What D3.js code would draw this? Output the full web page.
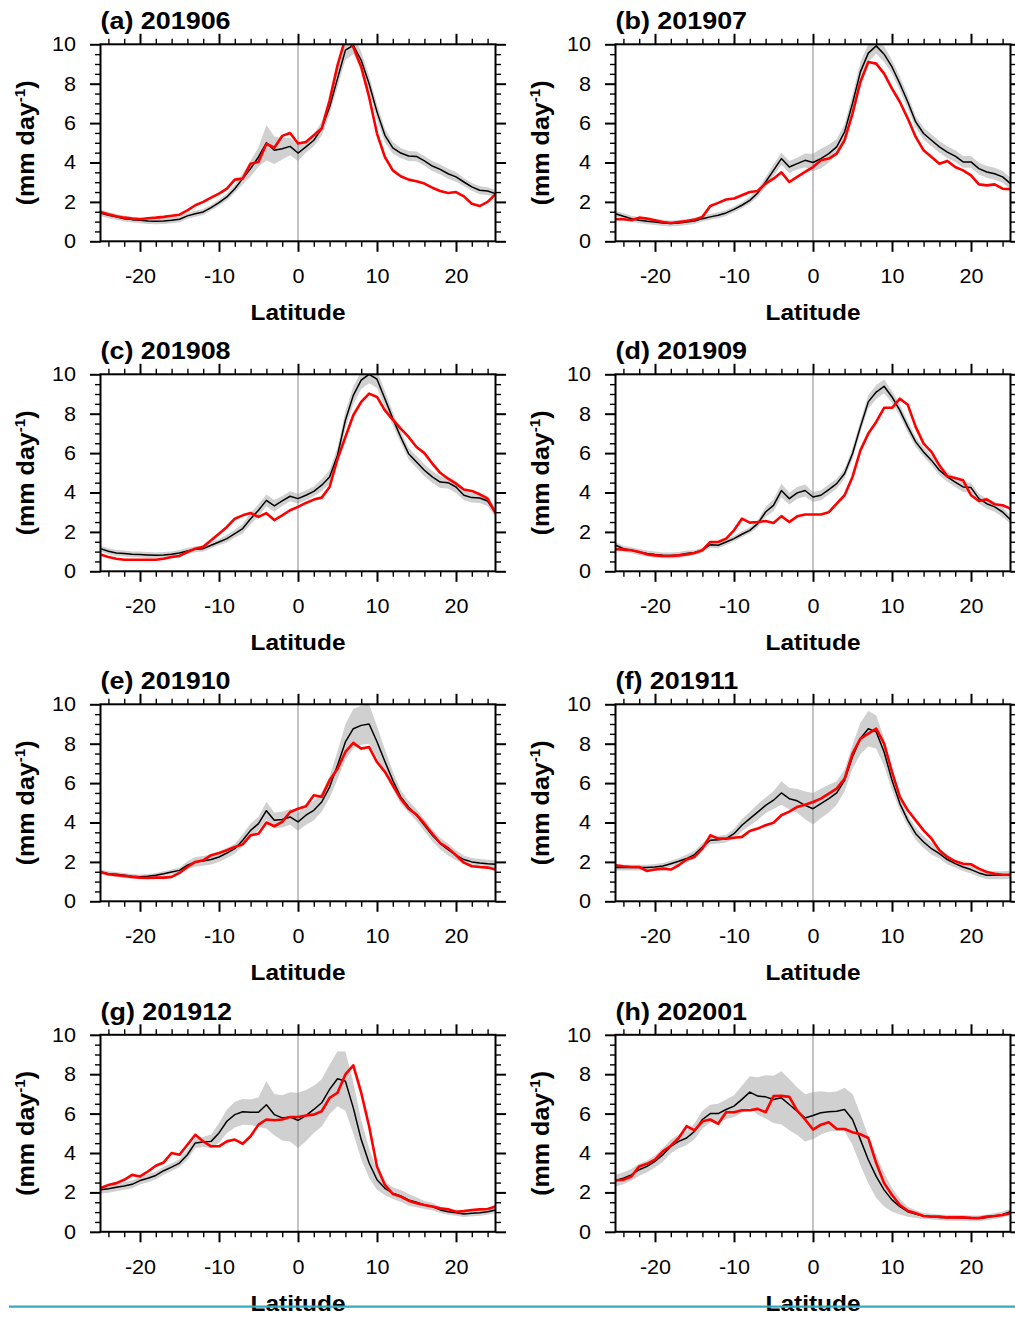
<!DOCTYPE html>
<html>
<head>
<meta charset="utf-8">
<script src="https://cdn.jsdelivr.net/npm/d3@7"></script>
<style>
  body { margin: 0; background: #ffffff; }
  svg { display: block; }
</style>
</head>
<body>
<svg id="fig" width="1015" height="1317"></svg>
<script>
// Zonal-mean precipitation (mm/day) vs latitude: ensemble mean (black),
// ensemble spread (gray band) and observation (red), one panel per month.

const latitudes = d3.range(-25, 26);            // -25 .. 25, 1 degree
const xTickValues = [-20, -10, 0, 10, 20];
const yTickValues = [0, 2, 4, 6, 8, 10];
const xMinorValues = d3.range(-24, 25, 2).filter(v => v % 10 !== 0);
const yMinorValues = d3.range(0.5, 10, 0.5).filter(v => v % 2 !== 0);
const panelTitles = ["(a) 201906", "(b) 201907", "(c) 201908", "(d) 201909",
                     "(e) 201910", "(f) 201911", "(g) 201912", "(h) 202001"];

// (a) 201906
const meanA = [1.44,1.32,1.24,1.15,1.1,1.07,1.03,1.02,1.03,1.07, 1.12,1.29,1.4,1.49,1.71,1.96,2.25,2.67,3.18,3.69, 4.28,5.0,4.62,4.7,4.82,4.48,4.79,5.13,5.72,6.82, 8.26,9.7,9.95,9.19,8.0,6.57,5.38,4.74,4.48,4.33, 4.31,4.08,3.82,3.65,3.43,3.27,3.01,2.76,2.59,2.55, 2.42];
const obsA = [1.49,1.37,1.27,1.2,1.15,1.12,1.17,1.2,1.24,1.3, 1.35,1.57,1.83,2.0,2.22,2.42,2.67,3.13,3.18,3.94, 4.03,4.95,4.75,5.35,5.5,4.96,5.04,5.38,5.72,7.16, 8.93,10.3,9.86,8.85,7.33,5.47,4.28,3.6,3.3,3.13, 3.05,2.93,2.72,2.55,2.45,2.5,2.28,1.91,1.79,2.0, 2.39];
const spreadA = [0.15,0.15,0.15,0.15,0.15,0.15,0.15,0.15,0.15,0.15, 0.15,0.15,0.15,0.15,0.15,0.15,0.18,0.2,0.28,0.4, 0.5,0.9,0.7,0.55,0.45,0.4,0.3,0.3,0.35,0.4, 0.45,0.5,0.45,0.45,0.4,0.4,0.35,0.3,0.25,0.25, 0.25,0.25,0.25,0.25,0.25,0.25,0.2,0.2,0.2,0.2, 0.2];

// (b) 201907
const meanB = [1.4,1.27,1.15,1.07,1.02,0.98,0.93,0.9,0.93,0.98, 1.03,1.15,1.24,1.32,1.44,1.62,1.83,2.08,2.45,3.01, 3.6,4.2,3.77,3.94,4.11,4.0,4.2,4.45,4.79,5.55, 7.0,8.6,9.55,9.92,9.5,8.85,8.0,7.07,6.06,5.47, 5.13,4.79,4.53,4.32,4.03,4.03,3.69,3.52,3.43,3.27, 2.93];
const obsB = [1.12,1.12,1.07,1.2,1.15,1.07,0.98,0.93,0.98,1.03, 1.1,1.24,1.79,1.95,2.12,2.17,2.34,2.5,2.55,2.93, 3.18,3.5,3.01,3.27,3.52,3.77,4.11,4.2,4.45,5.13, 6.48,8.09,9.1,9.02,8.51,7.75,7.07,6.23,5.3,4.62, 4.28,3.94,4.08,3.77,3.6,3.35,2.89,2.84,2.89,2.67, 2.64];
const spreadB = [0.15,0.15,0.15,0.15,0.15,0.15,0.15,0.15,0.15,0.15, 0.15,0.15,0.15,0.15,0.15,0.15,0.15,0.18,0.2,0.25, 0.3,0.3,0.3,0.3,0.35,0.45,0.5,0.45,0.4,0.4, 0.45,0.5,0.45,0.4,0.4,0.35,0.35,0.35,0.3,0.3, 0.3,0.3,0.3,0.3,0.3,0.3,0.3,0.3,0.3,0.3, 0.3];

// (c) 201908
const meanC = [1.15,1.02,0.93,0.9,0.86,0.85,0.83,0.81,0.83,0.86, 0.93,1.03,1.12,1.15,1.32,1.49,1.66,1.91,2.17,2.67, 3.1,3.6,3.32,3.57,3.81,3.69,3.86,4.06,4.37,4.79, 5.89,7.67,8.93,9.7,10.0,9.75,8.76,7.75,6.82,5.97, 5.55,5.13,4.79,4.53,4.5,4.28,3.86,3.74,3.72,3.57, 2.96];
const obsC = [0.85,0.73,0.64,0.59,0.59,0.59,0.59,0.59,0.64,0.73, 0.78,0.98,1.15,1.24,1.57,1.91,2.25,2.67,2.84,2.96, 2.76,2.95,2.6,2.84,3.1,3.27,3.47,3.64,3.74,4.28, 5.7,6.82,7.92,8.6,9.02,8.85,8.17,7.7,7.24,6.82, 6.31,6.0,5.47,5.0,4.7,4.45,4.15,4.08,3.91,3.69, 2.96];
const spreadC = [0.15,0.15,0.15,0.15,0.15,0.15,0.15,0.15,0.15,0.15, 0.15,0.15,0.15,0.15,0.15,0.15,0.2,0.2,0.25,0.3, 0.3,0.3,0.3,0.25,0.25,0.25,0.25,0.25,0.3,0.35, 0.4,0.45,0.45,0.45,0.45,0.45,0.4,0.35,0.3,0.3, 0.3,0.3,0.3,0.3,0.3,0.3,0.25,0.25,0.25,0.25, 0.2];

// (d) 201909
const meanD = [1.32,1.15,1.07,0.98,0.9,0.85,0.81,0.8,0.83,0.9, 0.95,1.07,1.35,1.32,1.49,1.66,1.88,2.08,2.42,3.01, 3.35,4.1,3.69,3.98,4.1,3.77,3.86,4.15,4.45,4.96, 5.97,7.33,8.6,9.1,9.39,8.85,8.17,7.33,6.57,6.06, 5.63,5.13,4.79,4.53,4.28,4.25,3.69,3.43,3.27,3.01, 2.62];
const obsD = [1.12,1.1,1.07,0.98,0.86,0.81,0.78,0.78,0.81,0.86, 0.93,1.07,1.49,1.49,1.66,2.08,2.67,2.47,2.5,2.55, 2.45,2.8,2.5,2.79,2.88,2.88,2.88,3.0,3.43,3.86, 4.79,6.14,6.99,7.58,8.3,8.3,8.76,8.45,7.33,6.48, 6.06,5.38,4.82,4.74,4.62,3.86,3.57,3.65,3.4,3.35, 3.18];
const spreadD = [0.15,0.15,0.15,0.15,0.15,0.15,0.15,0.15,0.15,0.15, 0.12,0.12,0.15,0.15,0.15,0.15,0.15,0.15,0.2,0.25, 0.3,0.35,0.3,0.3,0.3,0.25,0.25,0.25,0.25,0.25, 0.3,0.3,0.35,0.35,0.35,0.3,0.3,0.3,0.25,0.25, 0.25,0.25,0.25,0.25,0.25,0.25,0.25,0.25,0.25,0.25, 0.2];

// (e) 201910
const meanE = [1.49,1.4,1.37,1.32,1.27,1.24,1.27,1.32,1.4,1.49, 1.57,1.83,2.0,2.05,2.12,2.25,2.45,2.67,3.1,3.6, 3.94,4.6,4.11,4.15,4.28,4.03,4.37,4.62,5.04,5.8, 6.9,8.09,8.76,8.93,9.0,8.1,7.1,6.14,5.3,4.79, 4.37,3.86,3.35,2.93,2.62,2.34,2.12,2.0,1.95,1.91, 1.88];
const obsE = [1.49,1.37,1.32,1.29,1.24,1.2,1.18,1.2,1.2,1.24, 1.44,1.74,2.0,2.08,2.34,2.45,2.59,2.76,2.89,3.35, 3.43,4.0,3.81,4.03,4.53,4.7,4.82,5.38,5.3,6.14, 6.73,7.58,8.04,7.75,7.83,7.07,6.57,5.89,5.21,4.7, 4.4,3.94,3.43,2.96,2.7,2.34,1.96,1.78,1.74,1.71, 1.61];
const spreadE = [0.12,0.12,0.12,0.12,0.12,0.12,0.12,0.12,0.12,0.12, 0.15,0.2,0.25,0.25,0.25,0.25,0.25,0.25,0.3,0.35, 0.35,0.45,0.4,0.4,0.4,0.45,0.5,0.5,0.5,0.55, 0.7,0.9,1.0,1.0,1.0,0.8,0.6,0.45,0.35,0.3, 0.3,0.3,0.3,0.3,0.3,0.25,0.2,0.2,0.2,0.2, 0.2];

// (f) 201911
const meanF = [1.71,1.71,1.71,1.71,1.71,1.74,1.79,1.91,2.03,2.17, 2.37,2.76,3.1,3.13,3.18,3.43,3.86,4.2,4.53,4.87, 5.13,5.5,5.21,5.1,4.87,4.7,4.96,5.21,5.5,6.14, 7.33,8.26,8.76,8.6,7.58,6.14,4.96,4.11,3.43,3.01, 2.67,2.42,2.12,1.91,1.74,1.61,1.44,1.32,1.32,1.32, 1.35];
const obsF = [1.83,1.78,1.74,1.74,1.54,1.61,1.66,1.61,1.83,2.12, 2.25,2.67,3.35,3.18,3.18,3.23,3.27,3.57,3.69,3.86, 3.99,4.37,4.55,4.79,4.9,5.04,5.21,5.47,5.72,6.23, 7.5,8.26,8.51,8.76,8.0,6.57,5.3,4.62,4.11,3.6, 3.18,2.59,2.25,2.03,1.91,1.88,1.66,1.49,1.4,1.35, 1.35];
const spreadF = [0.15,0.15,0.15,0.15,0.15,0.15,0.15,0.15,0.15,0.2, 0.2,0.2,0.2,0.2,0.2,0.25,0.3,0.35,0.4,0.4, 0.45,0.6,0.55,0.6,0.7,0.8,0.75,0.7,0.6,0.55, 0.6,0.8,0.9,0.85,0.7,0.5,0.35,0.3,0.3,0.3, 0.3,0.25,0.25,0.2,0.2,0.2,0.2,0.2,0.2,0.2, 0.2];

// (g) 201912
const meanG = [2.13,2.18,2.26,2.33,2.41,2.6,2.72,2.86,3.1,3.28, 3.49,3.91,4.51,4.56,4.59,5.02,5.61,5.95,6.09,6.07, 6.07,6.45,5.95,5.78,5.83,5.66,5.9,6.21,6.55,7.23, 7.77,7.65,6.29,4.68,3.49,2.64,2.21,1.96,1.82,1.62, 1.5,1.36,1.28,1.11,1.02,0.97,0.9,0.94,0.97,1.02, 1.11];
const obsG = [2.21,2.38,2.47,2.64,2.89,2.81,3.06,3.35,3.52,4.0, 3.91,4.42,4.93,4.59,4.34,4.34,4.59,4.68,4.47,4.85, 5.44,5.7,5.66,5.7,5.83,5.83,5.9,5.95,6.12,6.8, 7.06,7.99,8.45,7.06,5.36,3.32,2.38,1.92,1.79,1.58, 1.45,1.36,1.28,1.19,1.14,1.02,1.05,1.11,1.14,1.16, 1.28];
const spreadG = [0.2,0.2,0.2,0.2,0.2,0.2,0.2,0.2,0.2,0.2, 0.2,0.25,0.25,0.25,0.35,0.5,0.6,0.65,0.65,0.65, 0.75,1.2,1.05,1.15,1.25,1.4,1.3,1.2,1.2,1.25, 1.4,1.5,1.3,1.0,0.75,0.5,0.35,0.3,0.3,0.3, 0.25,0.2,0.2,0.15,0.15,0.15,0.15,0.15,0.15,0.15, 0.15];

// (h) 202001
const meanH = [2.6,2.72,2.89,3.15,3.32,3.57,3.91,4.34,4.59,4.76, 5.1,5.7,6.0,6.0,6.21,6.38,6.72,7.09,6.89,6.85, 6.72,6.8,6.46,6.12,5.78,5.9,6.04,6.09,6.12,6.21, 5.7,4.68,3.66,2.81,2.13,1.62,1.28,1.02,0.9,0.8, 0.77,0.73,0.71,0.71,0.7,0.68,0.68,0.73,0.8,0.88, 1.02];
const obsH = [2.6,2.64,2.81,3.32,3.45,3.66,4.08,4.37,4.76,5.36, 5.15,5.61,5.7,5.48,6.07,6.07,6.17,6.17,6.24,6.07, 6.89,6.9,6.85,6.15,5.7,5.19,5.44,5.56,5.22,5.22, 5.05,4.95,4.76,3.49,2.47,1.87,1.36,1.07,0.94,0.8, 0.77,0.77,0.73,0.73,0.73,0.71,0.7,0.77,0.8,0.85, 0.94];
const spreadH = [0.3,0.3,0.3,0.3,0.3,0.3,0.35,0.35,0.35,0.35, 0.4,0.45,0.45,0.5,0.5,0.55,0.7,0.8,0.95,1.1, 1.2,1.35,1.3,1.2,1.2,1.2,1.1,1.0,1.0,1.1, 1.3,1.3,1.2,1.1,0.85,0.6,0.4,0.25,0.2,0.15, 0.15,0.15,0.15,0.15,0.15,0.15,0.15,0.15,0.15,0.15, 0.15];

const panels = [
  { title: panelTitles[0], mean: meanA, obs: obsA, spread: spreadA },
  { title: panelTitles[1], mean: meanB, obs: obsB, spread: spreadB },
  { title: panelTitles[2], mean: meanC, obs: obsC, spread: spreadC },
  { title: panelTitles[3], mean: meanD, obs: obsD, spread: spreadD },
  { title: panelTitles[4], mean: meanE, obs: obsE, spread: spreadE },
  { title: panelTitles[5], mean: meanF, obs: obsF, spread: spreadF },
  { title: panelTitles[6], mean: meanG, obs: obsG, spread: spreadG },
  { title: panelTitles[7], mean: meanH, obs: obsH, spread: spreadH }
];

// ---- layout ----
const FONT = "'Liberation Sans', Arial, Helvetica, sans-serif";
const plotW = 395, plotH = 197;
const colX = [100.5, 615.5];
const rowY = [44.3, 374.3, 704.3, 1034.8];
const majorLen = 10.5, minorLen = 5.5;
const tickFont = 20, tickStretch = 1.08;

const svg = d3.select("#fig");
const x = d3.scaleLinear().domain([-25, 25]).range([0, plotW]);
const y = d3.scaleLinear().domain([0, 10]).range([plotH, 0]);

// text drawn slightly wider than the system font, like the plotting package's font
function wideText(parent, px, py, str, size, weight, sx, anchor, rotate) {
  const rot = rotate ? ` rotate(${rotate})` : "";
  return parent.append("text")
    .attr("transform", `translate(${px},${py})${rot} scale(${sx},1)`)
    .attr("font-family", FONT)
    .attr("font-size", size)
    .attr("font-weight", weight)
    .attr("text-anchor", anchor)
    .attr("fill", "#000")
    .text(str);
}

function styleAxis(g, width) {
  g.select(".domain").remove();
  g.selectAll(".tick line").attr("stroke", "#000").attr("stroke-width", width);
}

panels.forEach((p, i) => {
  const c = i % 2, r = Math.floor(i / 2);
  const g = svg.append("g").attr("transform", `translate(${colX[c]},${rowY[r]})`);

  const clipId = "clip" + i;
  g.append("clipPath").attr("id", clipId)
    .append("rect").attr("x", 0).attr("y", 0).attr("width", plotW).attr("height", plotH);

  const rows = latitudes.map((lat, k) => ({ lat, m: p.mean[k], o: p.obs[k], s: p.spread[k] }));
  const plot = g.append("g").attr("clip-path", `url(#${clipId})`);

  // ensemble spread band
  plot.append("path")
    .datum(rows)
    .attr("fill", "#d0d0d0")
    .attr("stroke", "none")
    .attr("d", d3.area()
      .x(d => x(d.lat))
      .y0(d => y(Math.max(0, d.m - d.s)))
      .y1(d => y(d.m + d.s)));

  // equator reference line
  plot.append("line")
    .attr("x1", x(0)).attr("x2", x(0))
    .attr("y1", 0).attr("y2", plotH)
    .attr("stroke", "#8a8a8a").attr("stroke-width", 1);

  // ensemble mean
  plot.append("path")
    .datum(rows)
    .attr("fill", "none")
    .attr("stroke", "#000")
    .attr("stroke-width", 1.5)
    .attr("stroke-linejoin", "round")
    .attr("d", d3.line().x(d => x(d.lat)).y(d => y(d.m)));

  // observation
  plot.append("path")
    .datum(rows)
    .attr("fill", "none")
    .attr("stroke", "#ff0000")
    .attr("stroke-width", 2.6)
    .attr("stroke-linejoin", "round")
    .attr("d", d3.line().x(d => x(d.lat)).y(d => y(d.o)));

  // ---- axes (outward ticks on all four sides) ----
  const bottom = g.append("g").attr("transform", `translate(0,${plotH})`)
    .call(d3.axisBottom(x).tickValues(xTickValues).tickSize(majorLen).tickPadding(17.5)
      .tickFormat(d => String(d)));
  styleAxis(bottom, 2);
  bottom.selectAll(".tick text").each(function () {
    d3.select(this).attr("font-family", FONT).attr("font-size", tickFont).attr("fill", "#000")
      .attr("transform", `scale(${tickStretch},1)`);
  });
  styleAxis(g.append("g").attr("transform", `translate(0,${plotH})`)
    .call(d3.axisBottom(x).tickValues(xMinorValues).tickSize(minorLen).tickFormat("")), 1.4);

  const left = g.append("g")
    .call(d3.axisLeft(y).tickValues(yTickValues).tickSize(majorLen).tickPadding(14)
      .tickFormat(d => String(d)));
  styleAxis(left, 2);
  left.selectAll(".tick text").each(function () {
    const t = d3.select(this);
    const tx = +t.attr("x");
    t.attr("font-family", FONT).attr("font-size", tickFont).attr("fill", "#000")
      .attr("x", tx / tickStretch).attr("transform", `scale(${tickStretch},1)`);
  });
  styleAxis(g.append("g")
    .call(d3.axisLeft(y).tickValues(yMinorValues).tickSize(minorLen).tickFormat("")), 1.4);

  styleAxis(g.append("g")
    .call(d3.axisTop(x).tickValues(xTickValues).tickSize(majorLen).tickFormat("")), 2);
  styleAxis(g.append("g")
    .call(d3.axisTop(x).tickValues(xMinorValues).tickSize(minorLen).tickFormat("")), 1.4);
  styleAxis(g.append("g").attr("transform", `translate(${plotW},0)`)
    .call(d3.axisRight(y).tickValues(yTickValues).tickSize(majorLen).tickFormat("")), 2);
  styleAxis(g.append("g").attr("transform", `translate(${plotW},0)`)
    .call(d3.axisRight(y).tickValues(yMinorValues).tickSize(minorLen).tickFormat("")), 1.4);

  // frame
  g.append("rect")
    .attr("x", 0).attr("y", 0).attr("width", plotW).attr("height", plotH)
    .attr("fill", "none").attr("stroke", "#000").attr("stroke-width", 2);

  // panel title
  wideText(g, 0, -15, p.title, 23, "bold", 1.17, "start");

  // x-axis title
  wideText(g, plotW / 2, 276, "Latitude", 22, "bold", 1.11, "middle");

  // y-axis title with superscript
  const yl = wideText(g, -67, plotH / 2, "", 23, "bold", 1.09, "middle", -90);
  yl.append("tspan").text("(mm day");
  yl.append("tspan").attr("font-size", 14).attr("dy", -9).text("-1");
  yl.append("tspan").attr("dy", 9).text(")");
});

// page rule across the bottom
svg.append("line")
  .attr("x1", 9).attr("x2", 1015)
  .attr("y1", 1306.7).attr("y2", 1306.7)
  .attr("stroke", "#3aa9be").attr("stroke-width", 2.2);
</script>
</body>
</html>
